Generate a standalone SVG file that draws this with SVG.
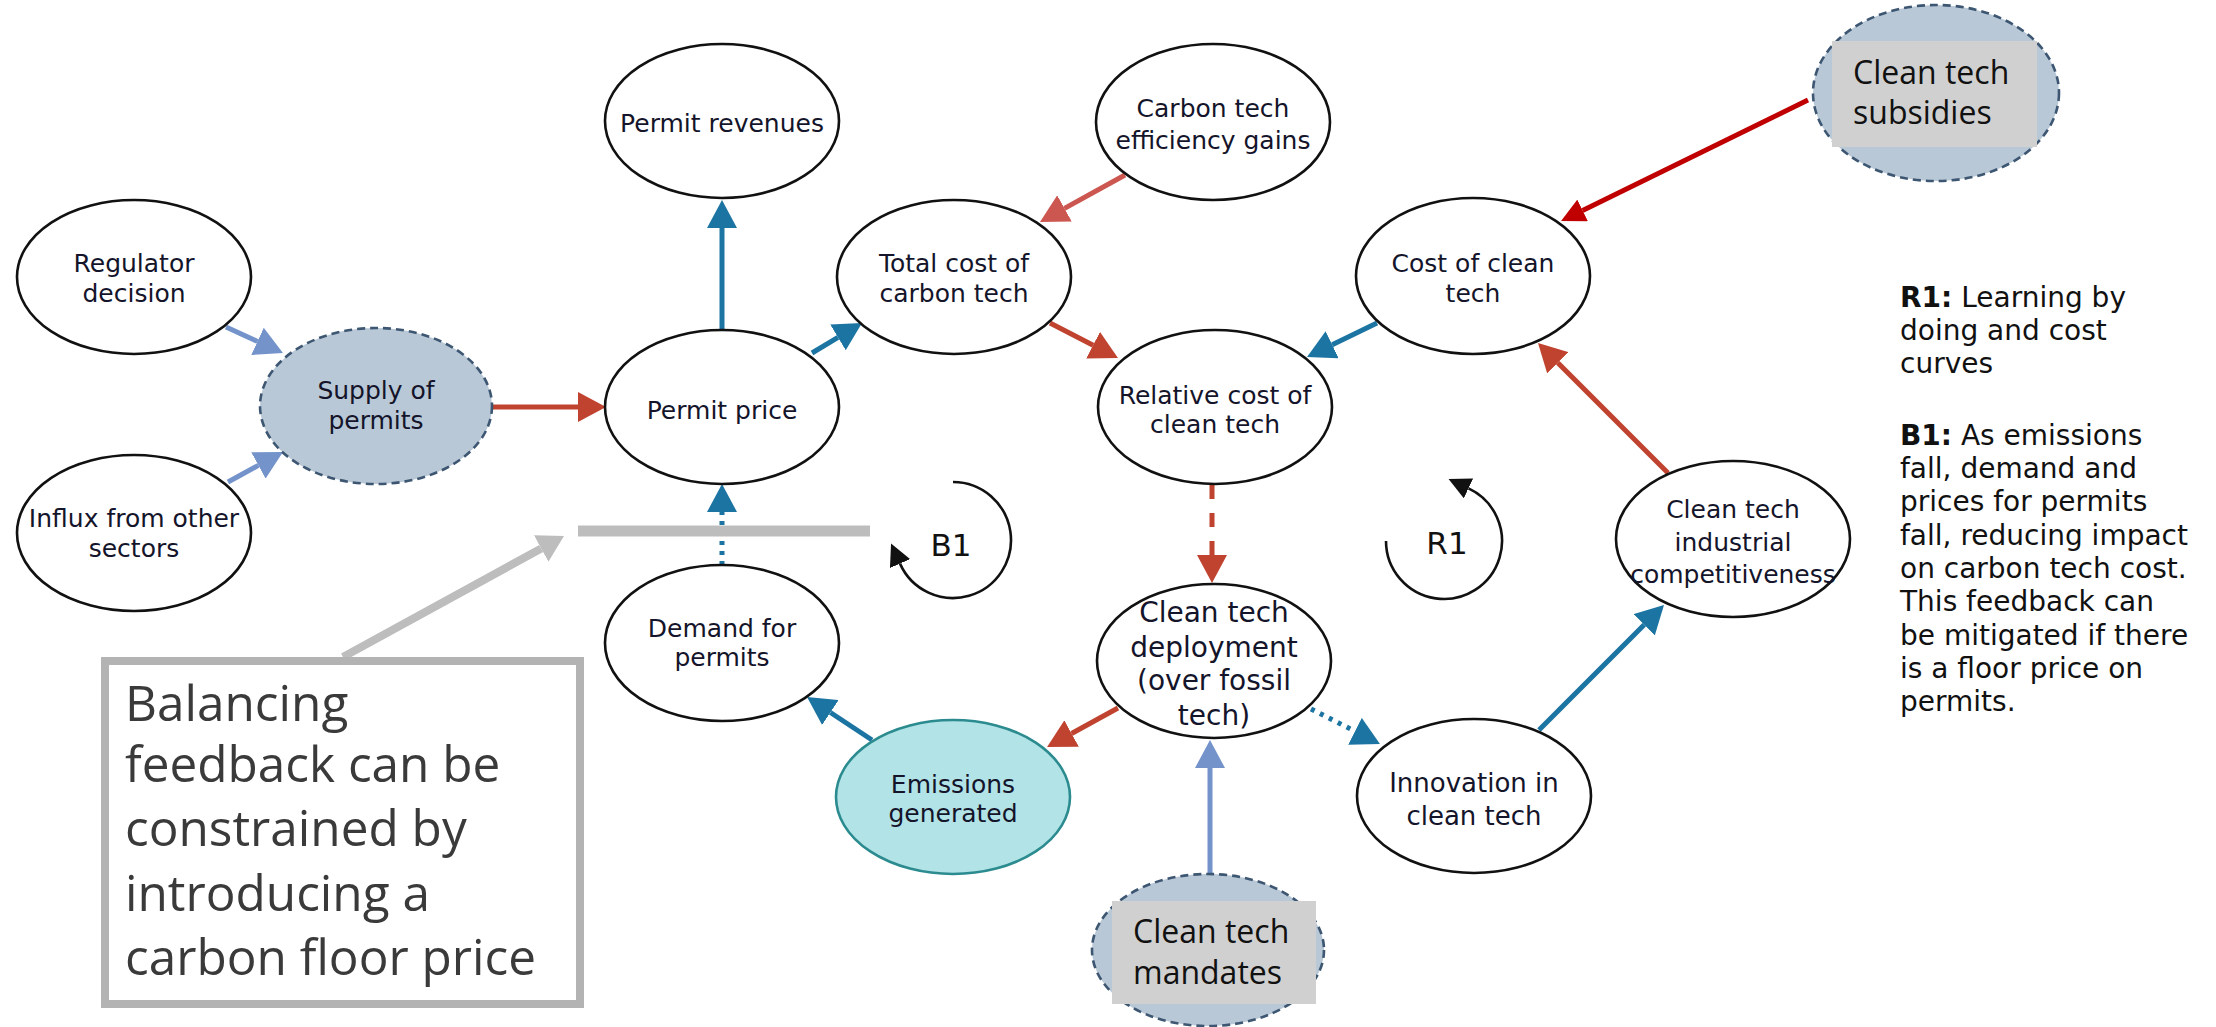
<svg xmlns="http://www.w3.org/2000/svg" width="2216" height="1027" viewBox="0 0 2216 1027">
  <style>
    .node { fill: #ffffff; stroke: #111111; stroke-width: 2.6; }
    .ext { fill: #b9c8d7; stroke: #3d5671; stroke-width: 2.6; stroke-dasharray: 8 5; }
    .emis { fill: #b2e3e7; stroke: #2b8b8f; stroke-width: 2.6; }
    .lbl { font-family: "DejaVu Sans", Verdana, sans-serif; font-size: 25px; fill: #14142a; text-anchor: middle; }
    .tag { fill: #d0d0d0; }
    .tagtxt { font-family: "Open Sans", "Noto Sans", sans-serif; font-size: 32px; fill: #111111; }
    .note { font-family: "DejaVu Sans", Verdana, sans-serif; font-size: 28px; fill: #111111; }
    .loop { fill: none; stroke: #111111; stroke-width: 2.6; }
    .looptxt { font-family: "DejaVu Sans", Verdana, sans-serif; font-size: 31px; fill: #111111; text-anchor: middle; }
    .blue { stroke: #1b74a1; stroke-width: 5; fill: none; }
    .red { stroke: #c0432f; stroke-width: 5; fill: none; }
    .redl { stroke: #cc5650; stroke-width: 5; fill: none; }
    .dred { stroke: #c00000; stroke-width: 5; fill: none; }
    .lblue { stroke: #7393ca; stroke-width: 5; fill: none; }
    .gray { stroke: #bdbdbd; fill: none; }
    .dotted { stroke-dasharray: 4 6; }
    .dashed { stroke-dasharray: 14 14; }
    .boxtxt { font-family: "Open Sans", "Noto Sans", sans-serif; font-size: 49.5px; fill: #3a3a3a; }
  </style>
  <defs>
    <marker id="hBlue" markerUnits="userSpaceOnUse" viewBox="0 0 28 30" markerWidth="28" markerHeight="30" refX="0" refY="15" orient="auto"><path d="M0,0 L28,15 L0,30 z" fill="#1b74a1"/></marker>
    <marker id="hRed" markerUnits="userSpaceOnUse" viewBox="0 0 28 30" markerWidth="28" markerHeight="30" refX="0" refY="15" orient="auto"><path d="M0,0 L28,15 L0,30 z" fill="#c0432f"/></marker>
    <marker id="hRedL" markerUnits="userSpaceOnUse" viewBox="0 0 28 30" markerWidth="28" markerHeight="30" refX="0" refY="15" orient="auto"><path d="M0,0 L28,15 L0,30 z" fill="#cc5650"/></marker>
    <marker id="hDRed" markerUnits="userSpaceOnUse" viewBox="0 0 24 24" markerWidth="24" markerHeight="24" refX="0" refY="12" orient="auto"><path d="M0,0 L24,12 L0,24 z" fill="#c00000"/></marker>
    <marker id="hLBlue" markerUnits="userSpaceOnUse" viewBox="0 0 28 30" markerWidth="28" markerHeight="30" refX="0" refY="15" orient="auto"><path d="M0,0 L28,15 L0,30 z" fill="#7393ca"/></marker>
    <marker id="hGray" markerUnits="userSpaceOnUse" viewBox="0 0 26 30" markerWidth="26" markerHeight="30" refX="0" refY="15" orient="auto"><path d="M0,0 L26,15 L0,30 z" fill="#bdbdbd"/></marker>
    <marker id="hBlack" markerUnits="userSpaceOnUse" viewBox="0 0 22 22" markerWidth="22" markerHeight="22" refX="0" refY="11" orient="auto"><path d="M0,0 L22,11 L0,22 z" fill="#111111"/></marker>
  </defs>

  <rect width="2216" height="1027" fill="#ffffff"/>

  <!-- causal links -->
  <g id="connectors">
    <line class="lblue" x1="226" y1="327" x2="257.5" y2="341.4" marker-end="url(#hLBlue)"/>
    <line class="lblue" x1="228" y1="482" x2="258.4" y2="465.4" marker-end="url(#hLBlue)"/>
    <line class="red" x1="492" y1="407" x2="578" y2="407" marker-end="url(#hRed)"/>
    <line class="blue" x1="722" y1="330" x2="722" y2="228" marker-end="url(#hBlue)"/>
    <line class="blue" x1="812" y1="353" x2="838" y2="337.4" marker-end="url(#hBlue)"/>
    <line class="redl" x1="1125" y1="175" x2="1064.5" y2="208.4" marker-end="url(#hRedL)"/>
    <line class="red" x1="1050" y1="323" x2="1093.1" y2="345.2" marker-end="url(#hRed)"/>
    <line class="blue" x1="1377" y1="323" x2="1332.2" y2="344.8" marker-end="url(#hBlue)"/>
    <line class="dred" x1="1808" y1="100" x2="1582.6" y2="210.4" marker-end="url(#hDRed)"/>
    <line class="red" x1="1668" y1="473" x2="1557.8" y2="362.8" marker-end="url(#hRed)"/>
    <line class="red dashed" x1="1212" y1="485" x2="1212" y2="555" marker-end="url(#hRed)"/>
    <line class="blue dotted" x1="1311" y1="709" x2="1355" y2="731.3" marker-end="url(#hBlue)"/>
    <line class="blue" x1="1539" y1="730" x2="1644.2" y2="624.8" marker-end="url(#hBlue)"/>
    <line class="red" x1="1118" y1="708" x2="1071.6" y2="733.5" marker-end="url(#hRed)"/>
    <line class="blue" x1="872" y1="740" x2="830.4" y2="712.5" marker-end="url(#hBlue)"/>
    <line class="blue dotted" x1="722" y1="565" x2="722" y2="512" marker-end="url(#hBlue)"/>
    <line class="lblue" x1="1210" y1="873" x2="1210" y2="768" marker-end="url(#hLBlue)"/>
  </g>

  <!-- feedback loop markers -->
  <g id="loop-b1">
    <path class="loop" d="M953,482 A58,58 0 1 1 900,563.6" marker-end="url(#hBlack)"/>
    <text class="looptxt" x="951" y="556">B1</text>
  </g>
  <g id="loop-r1">
    <path class="loop" d="M1386,541 A58,58 0 1 0 1468.5,488.4" marker-end="url(#hBlack)"/>
    <text class="looptxt" x="1447" y="554">R1</text>
  </g>

  <!-- variables -->
  <g id="regulator-decision">
    <ellipse class="node" cx="134" cy="277" rx="117" ry="77"/>
    <text class="lbl" x="134" y="272">Regulator</text>
    <text class="lbl" x="134" y="302">decision</text>
  </g>
  <g id="supply-of-permits">
    <ellipse class="ext" cx="376" cy="406" rx="116" ry="78"/>
    <text class="lbl" x="376" y="399">Supply of</text>
    <text class="lbl" x="376" y="429">permits</text>
  </g>
  <g id="influx-from-other-sectors">
    <ellipse class="node" cx="134" cy="533" rx="117" ry="78"/>
    <text class="lbl" x="134" y="527">Influx from other</text>
    <text class="lbl" x="134" y="557">sectors</text>
  </g>
  <g id="permit-price">
    <ellipse class="node" cx="722" cy="407" rx="117" ry="77"/>
    <text class="lbl" x="722" y="419">Permit price</text>
  </g>
  <g id="permit-revenues">
    <ellipse class="node" cx="722" cy="121" rx="117" ry="77"/>
    <text class="lbl" x="722" y="132">Permit revenues</text>
  </g>
  <g id="total-cost-of-carbon-tech">
    <ellipse class="node" cx="954" cy="277" rx="117" ry="77"/>
    <text class="lbl" x="954" y="272">Total cost of</text>
    <text class="lbl" x="954" y="302">carbon tech</text>
  </g>
  <g id="carbon-tech-efficiency-gains">
    <ellipse class="node" cx="1213" cy="122" rx="117" ry="78"/>
    <text class="lbl" x="1213" y="117">Carbon tech</text>
    <text class="lbl" x="1213" y="149">efficiency gains</text>
  </g>
  <g id="relative-cost-of-clean-tech">
    <ellipse class="node" cx="1215" cy="407" rx="117" ry="77"/>
    <text class="lbl" x="1215" y="404">Relative cost of</text>
    <text class="lbl" x="1215" y="433">clean tech</text>
  </g>
  <g id="cost-of-clean-tech">
    <ellipse class="node" cx="1473" cy="276" rx="117" ry="78"/>
    <text class="lbl" x="1473" y="272">Cost of clean</text>
    <text class="lbl" x="1473" y="302">tech</text>
  </g>
  <g id="clean-tech-industrial-competitiveness">
    <ellipse class="node" cx="1733" cy="539" rx="117" ry="78"/>
    <text class="lbl" x="1733" y="518">Clean tech</text>
    <text class="lbl" x="1733" y="551">industrial</text>
    <text class="lbl" x="1733" y="583">competitiveness</text>
  </g>
  <g id="clean-tech-deployment">
    <ellipse class="node" cx="1214" cy="661" rx="117" ry="77"/>
    <text class="lbl" x="1214" y="622" style="font-size:28px">Clean tech</text>
    <text class="lbl" x="1214" y="657" style="font-size:28px">deployment</text>
    <text class="lbl" x="1214" y="690" style="font-size:28px">(over fossil</text>
    <text class="lbl" x="1214" y="725" style="font-size:28px">tech)</text>
  </g>
  <g id="innovation-in-clean-tech">
    <ellipse class="node" cx="1474" cy="796" rx="117" ry="77"/>
    <text class="lbl" x="1474" y="792" style="font-size:26px">Innovation in</text>
    <text class="lbl" x="1474" y="825" style="font-size:26px">clean tech</text>
  </g>
  <g id="emissions-generated">
    <ellipse class="emis" cx="953" cy="797" rx="117" ry="77"/>
    <text class="lbl" x="953" y="793">Emissions</text>
    <text class="lbl" x="953" y="822">generated</text>
  </g>
  <g id="demand-for-permits">
    <ellipse class="node" cx="722" cy="643" rx="117" ry="78"/>
    <text class="lbl" x="722" y="637">Demand for</text>
    <text class="lbl" x="722" y="666">permits</text>
  </g>
  <g id="clean-tech-mandates">
    <ellipse class="ext" cx="1208" cy="950" rx="116" ry="76"/>
    <rect class="tag" x="1112" y="901" width="204" height="103"/>
    <text class="tagtxt" x="1133" y="943">Clean tech</text>
    <text class="tagtxt" x="1133" y="984">mandates</text>
  </g>
  <g id="clean-tech-subsidies">
    <ellipse class="ext" cx="1936" cy="93" rx="123" ry="88"/>
    <rect class="tag" x="1832" y="41" width="205" height="106"/>
    <text class="tagtxt" x="1853" y="84">Clean tech</text>
    <text class="tagtxt" x="1853" y="124">subsidies</text>
  </g>

  <!-- floor price annotation -->
  <g id="floor-price-callout">
    <line class="gray" x1="578" y1="531" x2="870" y2="531" stroke-width="11"/>
    <line class="gray" x1="343" y1="657" x2="541.2" y2="548.5" stroke-width="8" marker-end="url(#hGray)"/>
    <rect x="105" y="661" width="475" height="343" fill="#ffffff" stroke="#b3b3b3" stroke-width="8"/>
    <text class="boxtxt" x="125" y="721">Balancing</text>
    <text class="boxtxt" x="125" y="782">feedback can be</text>
    <text class="boxtxt" x="125" y="846">constrained by</text>
    <text class="boxtxt" x="125" y="911">introducing a</text>
    <text class="boxtxt" x="125" y="975">carbon floor price</text>
  </g>

  <!-- loop descriptions -->
  <g id="legend">
    <text class="note" x="1900" y="307"><tspan font-weight="bold">R1:</tspan> Learning by</text>
    <text class="note" x="1900" y="340">doing and cost</text>
    <text class="note" x="1900" y="373">curves</text>
    <text class="note" x="1900" y="445"><tspan font-weight="bold">B1:</tspan> As emissions</text>
    <text class="note" x="1900" y="478">fall, demand and</text>
    <text class="note" x="1900" y="511">prices for permits</text>
    <text class="note" x="1900" y="545">fall, reducing impact</text>
    <text class="note" x="1900" y="578">on carbon tech cost.</text>
    <text class="note" x="1900" y="611">This feedback can</text>
    <text class="note" x="1900" y="645">be mitigated if there</text>
    <text class="note" x="1900" y="678">is a floor price on</text>
    <text class="note" x="1900" y="711">permits.</text>
  </g>
</svg>
